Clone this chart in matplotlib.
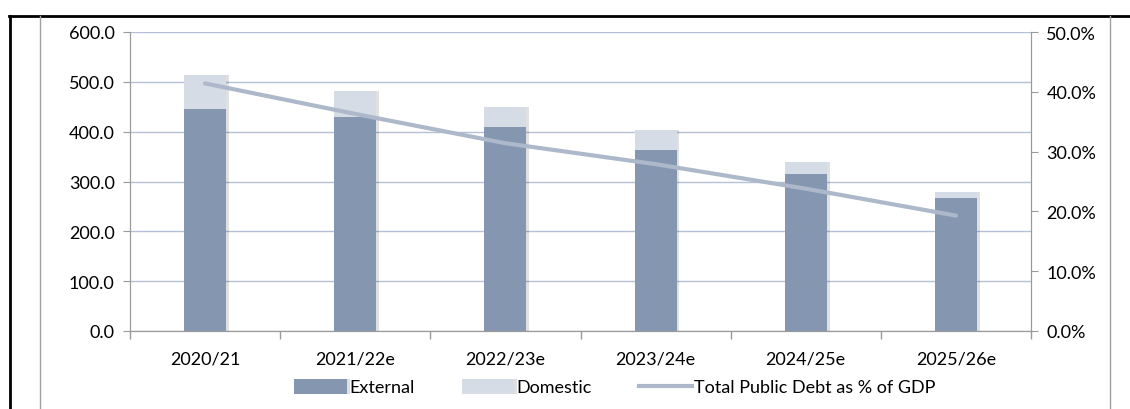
import matplotlib
matplotlib.use("Agg")
import matplotlib.pyplot as plt
import matplotlib.patheffects as pe
from matplotlib.lines import Line2D
from matplotlib.ticker import FuncFormatter, FixedLocator

categories = ["2020/21", "2021/22e", "2022/23e", "2023/24e", "2024/25e", "2025/26e"]
external = [445, 430, 410, 363, 316, 267]
domestic = [68, 51, 40, 40, 24, 11]
debt_pct_gdp = [41.4, 36.3, 31.4, 27.9, 23.8, 19.3]

plt.rcParams['font.family'] = ['Lato', 'DejaVu Sans']

W, H = 1130, 410
fig = plt.figure(figsize=(W / 100, H / 100), dpi=100)

def fx(px):
    return px / W

def fy(py):
    return 1 - py / H

ax = fig.add_axes([fx(130), fy(332), fx(1031) - fx(130), fy(33) - fy(332)])
ax2 = ax.twinx()

ext_c = "#8496B0"
dom_c = "#D6DCE5"
line_c = "#ADB9CA"
grid_c = "#B4C1D6"
axis_c = "#9A9A9A"
fs = 13

x = list(range(len(categories)))
shadow = [pe.SimplePatchShadow(offset=(2, 0), shadow_rgbFace="#000000", alpha=0.12), pe.Normal()]
b1 = ax.bar(x, external, width=0.28, color=ext_c, zorder=3, label="External")
b2 = ax.bar(x, domestic, width=0.28, bottom=external, color=dom_c, zorder=3, label="Domestic")
for p in list(b1) + list(b2):
    p.set_path_effects(shadow)

ln, = ax2.plot(x, debt_pct_gdp, color=line_c, lw=3, solid_capstyle="round", zorder=4,
               label="Total Public Debt as % of GDP")

ax.set_xlim(-0.5, len(categories) - 0.5)
ax.set_ylim(0, 600)
ax.set_yticks(range(0, 601, 100))
ax.yaxis.set_major_formatter(FuncFormatter(lambda v, p: f"{v:.1f}"))
ax2.set_ylim(0, 50)
ax2.set_yticks(range(0, 51, 10))
ax2.yaxis.set_major_formatter(FuncFormatter(lambda v, p: f"{v:.1f}%"))

ax.set_xticks(x)
ax.set_xticklabels(categories)
ax.xaxis.set_minor_locator(FixedLocator([i - 0.5 for i in range(len(categories) + 1)]))
ax.tick_params(axis="x", which="major", length=0, pad=14, labelsize=fs, colors="black")
ax.tick_params(axis="x", which="minor", length=6, color=axis_c, width=1)
ax.tick_params(axis="y", length=5, color=axis_c, labelsize=fs, pad=6)
ax2.tick_params(axis="y", length=5, color=axis_c, labelsize=fs, pad=6)

ax.yaxis.grid(True, color=grid_c, lw=1)
ax.set_axisbelow(True)
for a in (ax, ax2):
    a.spines["top"].set_visible(False)
    a.spines["left"].set_color(axis_c)
    a.spines["right"].set_color(axis_c)
    a.spines["bottom"].set_color(axis_c)

handles = [b1, b2, Line2D([0], [0], color=line_c, lw=3)]
labels = ["External", "Domestic", "Total Public Debt as % of GDP"]
fig.legend(handles, labels, loc="center", bbox_to_anchor=(fx(615), fy(388)), ncol=3,
           frameon=False, fontsize=fs, handlelength=2.9, handletextpad=0.15,
           columnspacing=2.6, handleheight=0.9)

# frame lines
fig.add_artist(Line2D([fx(9), 1], [fy(16.5), fy(16.5)], color="black", lw=2, transform=fig.transFigure))
fig.add_artist(Line2D([fx(9.5), fx(9.5)], [fy(16.5), 0], color="black", lw=2, transform=fig.transFigure))
fig.add_artist(Line2D([fx(40), fx(40)], [fy(17), 0], color="#A0A0A0", lw=1, transform=fig.transFigure))
fig.add_artist(Line2D([fx(1110), fx(1110)], [fy(17), 0], color="#A0A0A0", lw=1, transform=fig.transFigure))

fig.savefig("out.png", dpi=100)
